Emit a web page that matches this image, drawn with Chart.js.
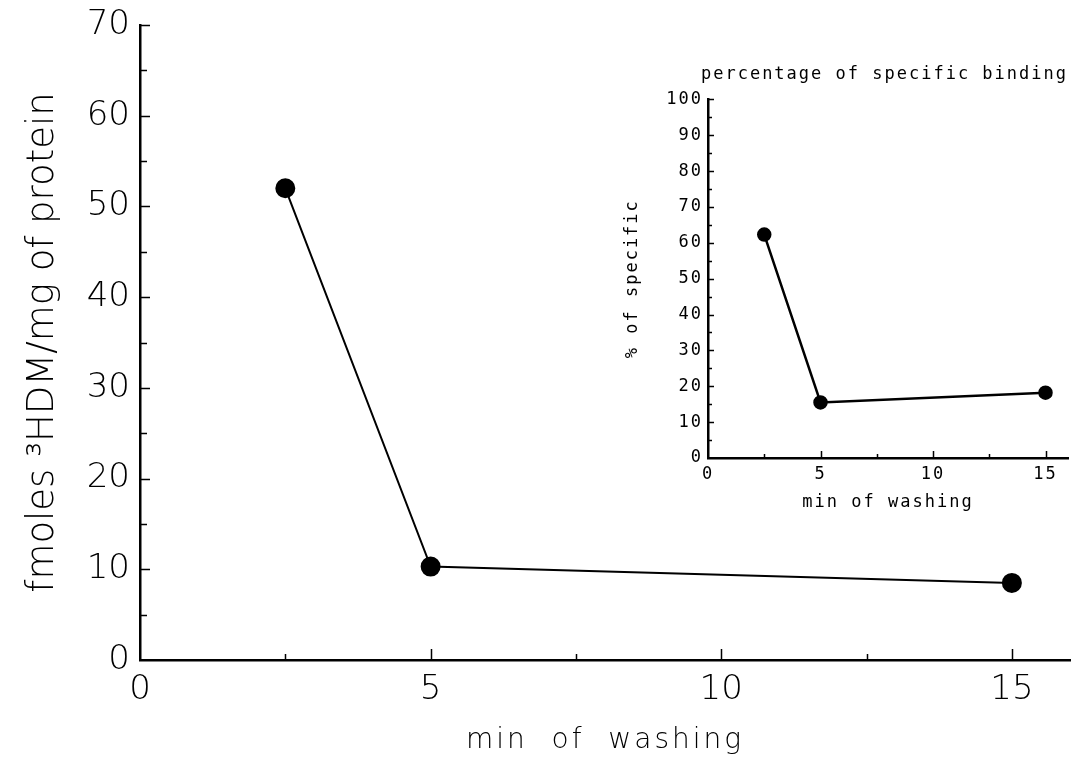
<!DOCTYPE html>
<html><head><meta charset="utf-8">
<script src="https://cdn.jsdelivr.net/npm/chart.js@4"></script>
<style>
html,body{margin:0;padding:0;background:#fff;}
#wrap{position:relative;width:1074px;height:761px;overflow:hidden;}
#main{position:absolute;left:0;top:0;}
#inset{position:absolute;left:600px;top:55px;}
</style></head><body>
<div id="wrap">
<canvas id="main" width="1074" height="761"></canvas>
<canvas id="inset" width="474" height="470"></canvas>
</div>
<script>
// Main chart data
const washMinutes = [2.5, 5, 15];
const fmolesPerMg = [52, 10.3, 8.5];
const mainXTicks = [0, 5, 10, 15];
const mainYTicks = [0, 10, 20, 30, 40, 50, 60, 70];
// Inset data
const insetMinutes = [2.5, 5, 15];
const pctSpecific = [62.3, 15.5, 18.2];
const insetXTicks = [0, 5, 10, 15];
const insetYTicks = [0, 10, 20, 30, 40, 50, 60, 70, 80, 90, 100];

const innerTicks = {
  id: 'innerTicks',
  beforeUpdate(chart, args, o) { if (o.spacing) chart.ctx.letterSpacing = o.spacing; },
  beforeDraw(chart, args, o) {
    if (o.spacing) chart.ctx.letterSpacing = o.spacing;
    if (o.xTitleSpacing) {
      const s = chart.scales.x;
      if (!s._lsPatched) {
        const orig = s.drawTitle.bind(s);
        s.drawTitle = function () {
          const c = this.ctx, prev = c.letterSpacing;
          c.letterSpacing = o.xTitleSpacing;
          orig();
          c.letterSpacing = prev;
        };
        s._lsPatched = true;
      }
    }
  },
  afterDraw(chart, args, o) {
    const ctx = chart.ctx, xs = chart.scales.x, ys = chart.scales.y;
    ctx.save();
    ctx.strokeStyle = '#000';
    ctx.lineWidth = o.width;
    ctx.beginPath();
    for (let v = xs.min + o.xMinor; v <= o.xLast + 1e-9; v += o.xMinor) {
      const major = Math.abs(v / o.xMajor - Math.round(v / o.xMajor)) < 1e-6;
      const len = major ? o.xLen : o.xMinorLen;
      const px = Math.round(xs.getPixelForValue(v)) + 0.5;
      ctx.moveTo(px, ys.bottom);
      ctx.lineTo(px, ys.bottom - len);
    }
    for (let v = ys.min + o.yMinor; v <= ys.max + 1e-9; v += o.yMinor) {
      const major = Math.abs(v / o.yMajor - Math.round(v / o.yMajor)) < 1e-6;
      const len = major ? o.yLen : o.yMinorLen;
      const py = Math.round(ys.getPixelForValue(v)) + 0.5;
      ctx.moveTo(xs.left, py);
      ctx.lineTo(xs.left + len, py);
    }
    ctx.stroke();
    ctx.restore();
  }
};

const thin = '"DejaVu Sans", sans-serif';
new Chart(document.getElementById('main'), {
  type: 'scatter',
  data: {
    datasets: [{
      data: washMinutes.map((x, i) => ({ x: x, y: fmolesPerMg[i] })),
      showLine: true,
      borderColor: '#000',
      backgroundColor: '#000',
      borderWidth: 2,
      pointRadius: 9,
      pointHoverRadius: 9
    }]
  },
  options: {
    responsive: false,
    animation: false,
    events: [],
    layout: { autoPadding: false, padding: { top: 25, right: 4, left: 0, bottom: 0 } },
    plugins: {
      legend: { display: false },
      tooltip: { enabled: false },
      innerTicks: { xTitleSpacing: '3px', width: 1.5, xMinor: 2.5, xMajor: 5, xLast: 15, xLen: 11, xMinorLen: 6, yMinor: 5, yMajor: 10, yLen: 10, yMinorLen: 7 }
    },
    scales: {
      x: {
        type: 'linear', min: 0, max: 16,
        afterBuildTicks: s => { s.ticks = mainXTicks.map(v => ({ value: v })); },
        afterFit: s => { s.height = 101; s.paddingLeft = 0; s.paddingRight = 0; },
        grid: { display: false, drawTicks: false },
        border: { display: true, color: '#000', width: 2.5 },
        ticks: { color: '#000', font: { family: thin, size: 34, weight: '200' }, padding: 10, maxRotation: 0 },
        title: { display: true, text: 'min  of  washing', color: '#000', font: { family: thin, size: 28, weight: '200' }, padding: { top: 4, bottom: 3 } }
      },
      y: {
        type: 'linear', min: 0, max: 70,
        afterBuildTicks: s => { s.ticks = mainYTicks.map(v => ({ value: v })); },
        afterFit: s => { s.width = 140; s.paddingTop = 0; s.paddingBottom = 0; },
        grid: { display: false, drawTicks: false },
        border: { display: true, color: '#000', width: 2.5 },
        ticks: { color: '#000', font: { family: thin, size: 34, weight: '200' }, padding: 10 },
        title: { display: true, text: 'fmoles ³HDM/mg of protein', color: '#000', font: { family: thin, size: 37, weight: '200' }, padding: { top: 21, bottom: 0 } }
      }
    }
  },
  plugins: [innerTicks]
});

const monoFont = { family: '"DejaVu Sans Mono", monospace', size: 17 };
new Chart(document.getElementById('inset'), {
  type: 'scatter',
  data: {
    datasets: [{
      data: insetMinutes.map((x, i) => ({ x: x, y: pctSpecific[i] })),
      showLine: true,
      borderColor: '#000',
      backgroundColor: '#000',
      borderWidth: 2.5,
      pointRadius: 6,
      pointHoverRadius: 6
    }]
  },
  options: {
    responsive: false,
    animation: false,
    events: [],
    layout: { autoPadding: false, padding: { top: 0, right: 6, left: 0, bottom: 0 } },
    plugins: {
      legend: { display: false },
      tooltip: { enabled: false },
      title: { display: true, text: 'percentage of specific binding', align: 'end', color: '#000', font: { family: '"DejaVu Sans Mono", monospace', size: 17, weight: 'normal' }, padding: { top: 9, bottom: 15 } },
      innerTicks: { spacing: '2px', width: 1.5, xMinor: 2.5, xMajor: 5, xLast: 15, xLen: 7, xMinorLen: 4, yMinor: 5, yMajor: 10, yLen: 6, yMinorLen: 4 }
    },
    scales: {
      x: {
        type: 'linear', min: 0, max: 16,
        afterBuildTicks: s => { s.ticks = insetXTicks.map(v => ({ value: v })); },
        afterFit: s => { s.height = 67; s.paddingLeft = 0; s.paddingRight = 0; },
        grid: { display: false, drawTicks: false },
        border: { display: true, color: '#000', width: 2.5 },
        ticks: { color: '#000', font: monoFont, padding: 6, maxRotation: 0 },
        title: { display: true, text: 'min of washing', color: '#000', font: monoFont, padding: { top: 2, bottom: 12 } }
      },
      y: {
        type: 'linear', min: 0, max: 100,
        afterBuildTicks: s => { s.ticks = insetYTicks.map(v => ({ value: v })); },
        afterFit: s => { s.width = 108; s.paddingTop = 0; s.paddingBottom = 0; },
        grid: { display: false, drawTicks: false },
        border: { display: true, color: '#000', width: 2.5 },
        ticks: { color: '#000', font: monoFont, padding: 5 },
        title: { display: true, text: '% of specific', color: '#000', font: monoFont, padding: { top: 22, bottom: 0 } }
      }
    }
  },
  plugins: [innerTicks]
});
</script>
</body></html>
